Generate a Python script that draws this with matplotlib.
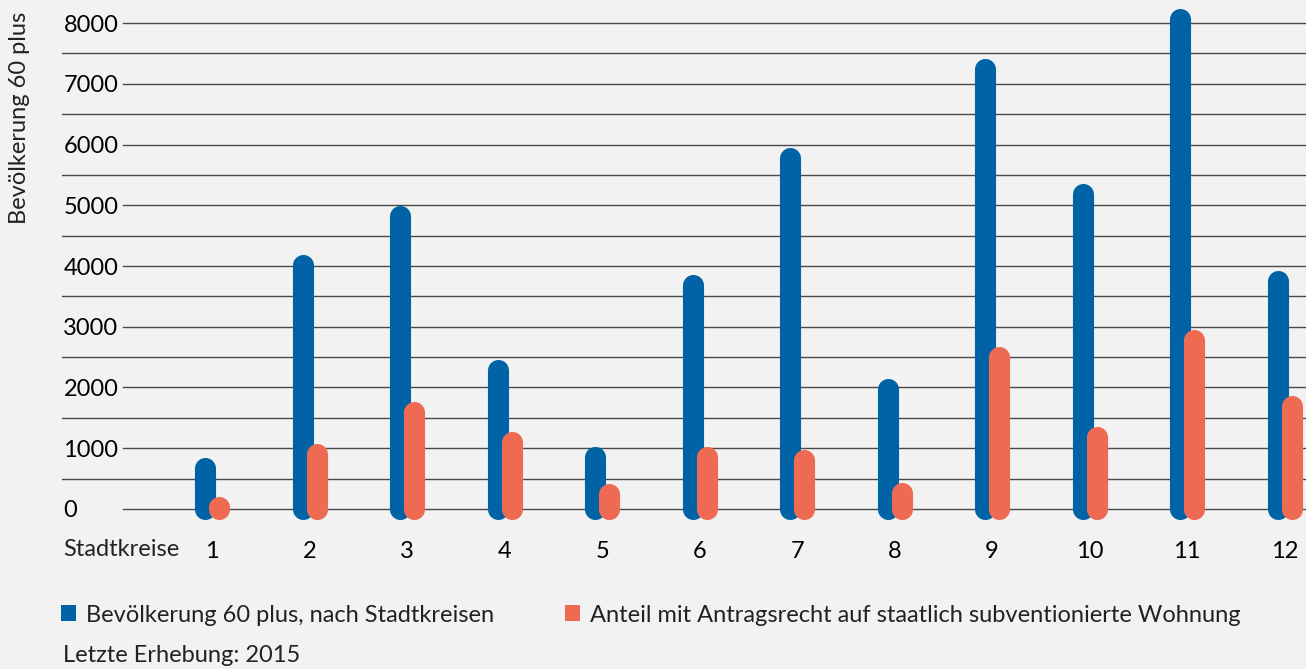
import numpy as np
import matplotlib
matplotlib.use('Agg')
import matplotlib.pyplot as plt
from matplotlib.patches import Patch

plt.rcParams['font.family'] = ['Lato', 'DejaVu Sans']
plt.rcParams['font.size'] = 17
plt.rcParams['text.color'] = '#222222'

BG   = '#f2f2f2'
BLUE = '#0063a6'
RED  = '#ee6a53'
GRID = '#4a4a4a'

# ── Data ────────────────────────────────────────────────────
kreise     = [1, 2, 3, 4, 5, 6, 7, 8, 9, 10, 11, 12]
pop60      = [680, 4020, 4830, 2280, 860, 3680, 5770, 1970, 7250, 5190, 8060, 3760]
antrag     = [30, 910, 1600, 1110, 250, 860, 800, 270, 2510, 1180, 2790, 1700]
yticks     = [0, 1000, 2000, 3000, 4000, 5000, 6000, 7000, 8000]
minor_grid = [500, 1500, 2500, 3500, 4500, 5500, 6500, 7500]

W, H = 1306, 669
fig = plt.figure(figsize=(W / 100, H / 100), dpi=100, facecolor=BG)
ax = fig.add_axes([62 / W, 1 - 530 / H, 1244 / W, 530 / H], facecolor=BG)
ax.set_xlim(-0.54, 12.22)
ax.set_ylim(-346, 8379)

# gridlines
for v in minor_grid:
    ax.axhline(v, xmin=0, xmax=1, color=GRID, lw=1.0, zorder=1)
for v in yticks:
    ax.axhline(v, xmin=0.049, xmax=1, color=GRID, lw=1.0, zorder=1)

# rounded bars
off = 0.072
lw = 15.2
for k, b, r in zip(kreise, pop60, antrag):
    ax.plot([k - off, k - off], [0, b], color=BLUE, lw=lw,
            solid_capstyle='round', zorder=3)
    ax.plot([k + off, k + off], [0, r], color=RED, lw=lw,
            solid_capstyle='round', zorder=4)

for s in ax.spines.values():
    s.set_visible(False)

ax.set_yticks(yticks)
ax.set_yticklabels([str(v) for v in yticks])
for lab in ax.get_yticklabels():
    lab.set_horizontalalignment('left')
ax.tick_params(axis='y', length=0, pad=-1)

ax.set_xticks(kreise)
ax.set_xticklabels([str(k) for k in kreise])
ax.tick_params(axis='x', length=0, pad=8)

fig.text(63 / W, 1 - 550 / H, 'Stadtkreise', ha='left', va='center')
fig.text(20 / W, 1 - 118 / H, 'Bevölkerung 60 plus', rotation=90,
         ha='center', va='center')

handles = [Patch(facecolor=BLUE, edgecolor='none'),
           Patch(facecolor=RED, edgecolor='none')]
labels = ['Bevölkerung 60 plus, nach Stadtkreisen',
          'Anteil mit Antragsrecht auf staatlich subventionierte Wohnung']
fig.legend(handles, labels, loc='center left',
           bbox_to_anchor=(61 / W, 1 - 615 / H), ncol=2, frameon=False,
           handlelength=0.65, handleheight=0.65, handletextpad=0.4,
           columnspacing=3.0, borderaxespad=0, borderpad=0)

fig.text(63 / W, 1 - 655 / H, 'Letzte Erhebung: 2015', ha='left', va='center')

plt.savefig('out.png', dpi=100, facecolor=BG)
plt.close()
